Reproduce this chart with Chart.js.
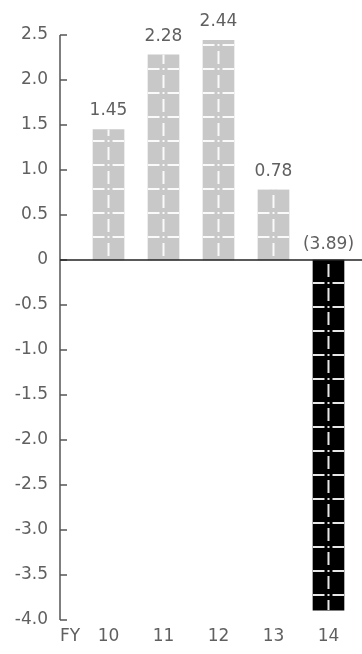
<!DOCTYPE html>
<html>
<head>
<meta charset="utf-8">
<script src="https://cdn.jsdelivr.net/npm/chart.js@4.4.1/dist/chart.umd.min.js"></script>
<style>
  html, body { margin: 0; padding: 0; background: #fff; }
  #wrap { width: 362px; height: 654px; position: relative; }
</style>
</head>
<body>
<div id="wrap"><canvas id="fyChart"></canvas></div>
<script>
// fiscal years and values
const years = [10, 11, 12, 13, 14];
const earnings = [1.45, 2.28, 2.44, 0.78, -3.89];
const xTickLabels = ['FY', '10', '11', '12', '13', '14'];
const yTicks = [2.5, 2.0, 1.5, 1.0, 0.5, 0, -0.5, -1.0, -1.5, -2.0, -2.5, -3.0, -3.5, -4.0];

const fyTickAt = 9.3; // where the "FY" caption sits on the x scale
const textColor = '#606060';
const labelFont = { family: 'DejaVu Sans', size: 17 };

// white "road" markings painted over each bar, measured from the zero line
const roadMarks = {
  id: 'roadMarks',
  afterDatasetsDraw(chart) {
    const ctx = chart.ctx;
    const y0 = chart.scales.y.getPixelForValue(0);
    chart.getDatasetMeta(0).data.forEach(bar => {
      const left = bar.x - bar.width / 2;
      const right = bar.x + bar.width / 2;
      const top = Math.min(bar.y, bar.base);
      const bottom = Math.max(bar.y, bar.base);
      const dir = bar.y < bar.base ? -1 : 1;
      ctx.save();
      ctx.beginPath();
      ctx.rect(left, top, right - left, bottom - top);
      ctx.clip();
      ctx.fillStyle = 'rgba(255,255,255,0.9)';
      for (let off = 0; off < bottom - top + 24; off += 24) {
        // centre dash
        const a = y0 + dir * (off + 4);
        const b = y0 + dir * (off + 17);
        ctx.fillRect(bar.x - 1, Math.min(a, b), 2, 13);
        // cross stripe with a dot in the middle
        const sy = y0 + dir * (off + 23);
        ctx.fillRect(left, sy - 1, bar.x - 4 - left, 2);
        ctx.fillRect(bar.x + 4, sy - 1, right - bar.x - 4, 2);
        ctx.fillRect(bar.x - 1, sy - 1, 2, 2);
      }
      ctx.restore();
    });
  }
};

// y axis line with inward ticks, the zero line and the value labels
const axisMarks = {
  id: 'axisMarks',
  afterDraw(chart) {
    const ctx = chart.ctx;
    const ys = chart.scales.y;
    const area = chart.chartArea;
    const y0 = ys.getPixelForValue(0);

    ctx.save();
    ctx.strokeStyle = '#555';
    ctx.lineWidth = 1.5;
    ctx.beginPath();
    ctx.moveTo(area.left, ys.getPixelForValue(yTicks[0]));
    ctx.lineTo(area.left, ys.getPixelForValue(yTicks[yTicks.length - 1]));
    yTicks.forEach(v => {
      const py = ys.getPixelForValue(v);
      ctx.moveTo(area.left, py);
      ctx.lineTo(area.left + 7, py);
    });
    ctx.stroke();

    ctx.strokeStyle = '#222';
    ctx.beginPath();
    ctx.moveTo(area.left, y0);
    ctx.lineTo(chart.width, y0);
    ctx.stroke();

    ctx.fillStyle = textColor;
    ctx.font = labelFont.size + 'px ' + labelFont.family;
    ctx.textAlign = 'center';
    ctx.textBaseline = 'bottom';
    chart.getDatasetMeta(0).data.forEach((bar, i) => {
      const v = earnings[i];
      if (v >= 0) {
        ctx.fillText(v.toFixed(2), bar.x, bar.y - 10);
      } else {
        ctx.fillText('(' + Math.abs(v).toFixed(2) + ')', bar.x, y0 - 7);
      }
    });
    ctx.restore();
  }
};

const ctx = document.getElementById('fyChart').getContext('2d');
const fyChart = new Chart(ctx, {
  type: 'bar',
  data: {
    datasets: [{
      data: years.map((yr, i) => ({ x: yr, y: earnings[i] })),
      backgroundColor: earnings.map(v => v < 0 ? '#000000' : '#c8c8c8'),
      borderWidth: 0,
      barThickness: 31
    }]
  },
  options: {
    responsive: true,
    maintainAspectRatio: false,
    animation: false,
    layout: { padding: { top: 35, right: 2, left: 0, bottom: 0 } },
    plugins: { legend: { display: false }, tooltip: { enabled: false } },
    scales: {
      x: {
        type: 'linear',
        offset: false,
        min: 9.118,
        max: 14.573,
        grid: { display: false, drawTicks: false, offset: false },
        border: { display: false },
        afterBuildTicks: s => { s.ticks = [fyTickAt, ...years].map(v => ({ value: v })); },
        afterFit: s => { s.height = 34; },
        ticks: {
          padding: 6,
          autoSkip: false,
          maxRotation: 0,
          color: textColor,
          font: labelFont,
          callback: (v, i) => xTickLabels[i]
        }
      },
      y: {
        min: -4,
        max: 2.5,
        grid: { display: false, drawTicks: false },
        border: { display: false },
        afterBuildTicks: s => { s.ticks = yTicks.map(v => ({ value: v })); },
        afterFit: s => { s.width = 60; },
        ticks: {
          padding: 12,
          color: textColor,
          font: labelFont,
          callback: v => v === 0 ? '0' : v.toFixed(1)
        }
      }
    }
  },
  plugins: [roadMarks, axisMarks]
});
</script>
</body>
</html>
